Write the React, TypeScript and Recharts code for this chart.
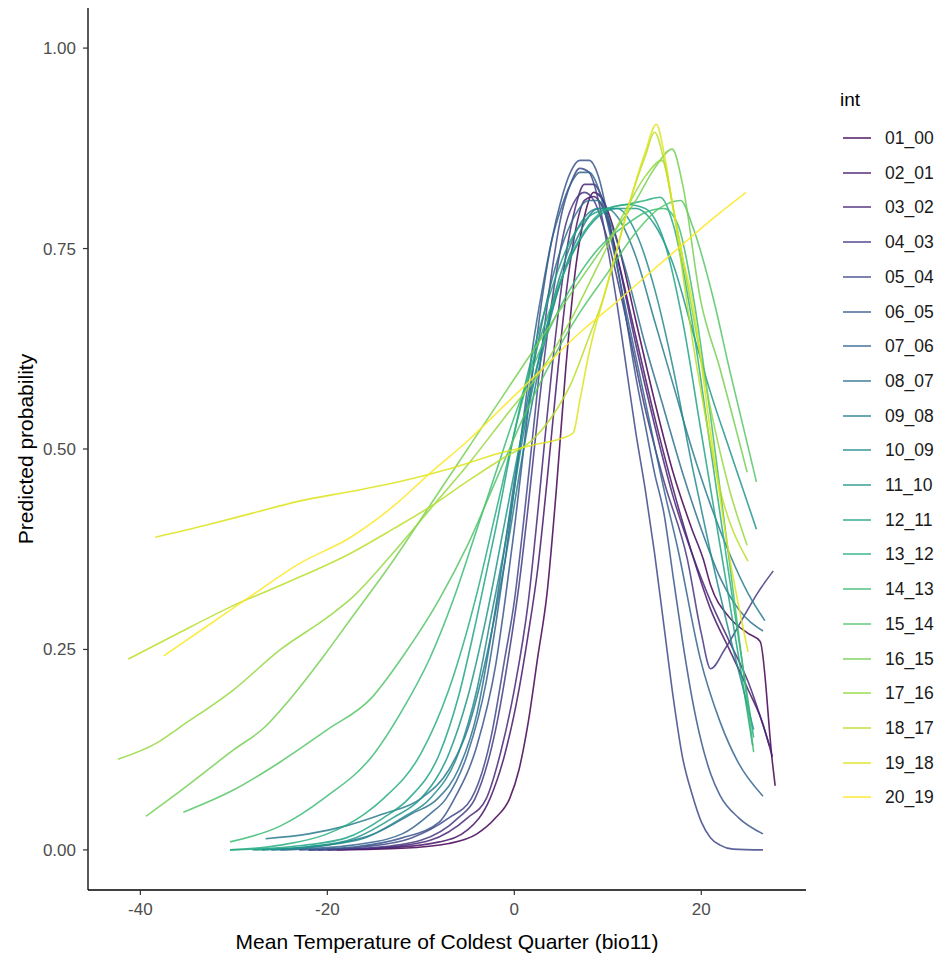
import React from 'react';
import { LineChart, Line, XAxis, YAxis, Legend } from 'recharts';

// Predicted probability vs bio11, one curve per interval (int)
type Pt = [number, number];

const s01_00: Pt[] = [[-19, 0], [-12, 0.002], [-7, 0.008], [-4, 0.02], [-2, 0.04], [-0.5, 0.064], [0.5, 0.1], [1.5, 0.16], [2.5, 0.24], [3.5, 0.32], [4.5, 0.45], [5.5, 0.6], [6.5, 0.72], [7.5, 0.79], [8.5, 0.82], [9.5, 0.81], [11, 0.76], [13, 0.66], [15, 0.56], [17, 0.47], [19, 0.4], [20.2, 0.363], [21, 0.33], [23, 0.29], [25, 0.27], [26.3, 0.26], [27.6, 0.11], [27.9, 0.08]];
const s02_01: Pt[] = [[-20, 0], [-13, 0.003], [-8, 0.01], [-5, 0.025], [-2.6, 0.064], [-1, 0.12], [0.5, 0.2], [1.5, 0.27], [2.5, 0.35], [3.5, 0.46], [4.5, 0.58], [5.5, 0.69], [6.5, 0.77], [7.5, 0.81], [8.5, 0.815], [9.5, 0.8], [11, 0.74], [13, 0.64], [15, 0.54], [17, 0.45], [19, 0.37], [21, 0.3], [23, 0.25], [25, 0.2], [26.5, 0.16], [27.6, 0.116]];
const s03_02: Pt[] = [[-21, 0], [-14, 0.003], [-9, 0.012], [-5, 0.04], [-3, 0.064], [-1.5, 0.12], [0, 0.2], [1.5, 0.31], [2.5, 0.42], [3.5, 0.54], [4.5, 0.65], [5.5, 0.74], [6.5, 0.8], [7.5, 0.83], [8.5, 0.83], [9.5, 0.81], [11, 0.74], [13, 0.63], [15, 0.53], [17, 0.44], [19, 0.37], [21, 0.31], [23, 0.26], [25, 0.21], [27.3, 0.13]];
const s04_03: Pt[] = [[-22, 0], [-15, 0.003], [-10, 0.012], [-6, 0.04], [-4.2, 0.064], [-2, 0.15], [-0.5, 0.25], [0.5, 0.33], [1.5, 0.43], [2.5, 0.54], [3.5, 0.64], [4.5, 0.72], [5.5, 0.78], [6.5, 0.81], [7.5, 0.82], [8.5, 0.81], [10, 0.76], [12, 0.66], [14, 0.55], [16, 0.46], [18.5, 0.363], [20, 0.27], [21, 0.226], [22.5, 0.25], [24.5, 0.29], [26, 0.32], [27.7, 0.348]];
const s05_04: Pt[] = [[-22, 0], [-16, 0.004], [-11, 0.015], [-7, 0.04], [-4.6, 0.064], [-2.5, 0.14], [-1, 0.24], [0, 0.31], [1, 0.41], [2, 0.52], [3, 0.63], [4, 0.72], [5, 0.79], [6, 0.83], [7, 0.85], [8, 0.845], [9, 0.81], [10, 0.75], [11, 0.68], [12, 0.6], [13, 0.52], [14, 0.45], [15, 0.37], [16, 0.28], [17, 0.19], [18, 0.115], [19, 0.07], [20, 0.035], [21, 0.015], [22, 0.006], [23.4, 0.001], [26.6, 0]];
const s06_05: Pt[] = [[-23, 0], [-17, 0.004], [-12, 0.015], [-8, 0.035], [-6.4, 0.064], [-4, 0.13], [-2, 0.23], [-1, 0.31], [0, 0.4], [1, 0.5], [2, 0.6], [3, 0.69], [4, 0.76], [5, 0.81], [6, 0.845], [7, 0.86], [8, 0.86], [9, 0.84], [10, 0.79], [11, 0.73], [12, 0.66], [13, 0.59], [14, 0.53], [15, 0.47], [16, 0.42], [17, 0.34], [18, 0.26], [19, 0.19], [20, 0.135], [21, 0.095], [22, 0.068], [24, 0.04], [26.6, 0.02]];
const s07_06: Pt[] = [[-25, 0], [-18, 0.005], [-12, 0.02], [-9, 0.045], [-7.3, 0.064], [-5, 0.12], [-3, 0.21], [-2, 0.28], [-1, 0.36], [0, 0.45], [1, 0.54], [2, 0.63], [3, 0.7], [4, 0.76], [5, 0.8], [6, 0.83], [7, 0.845], [8, 0.845], [9, 0.825], [10, 0.78], [12, 0.67], [14, 0.56], [16, 0.45], [17.5, 0.375], [19.9, 0.238], [22, 0.16], [23.9, 0.11], [26.6, 0.067]];
const s08_07: Pt[] = [[-26, 0], [-20, 0.006], [-15, 0.02], [-11, 0.045], [-8.2, 0.064], [-6, 0.1], [-4, 0.17], [-2.3, 0.28], [-1, 0.38], [0, 0.46], [2, 0.6], [4, 0.71], [6, 0.78], [8, 0.81], [9, 0.81], [10, 0.79], [12, 0.72], [14, 0.63], [16, 0.55], [18, 0.47], [20, 0.4], [22, 0.34], [24, 0.3], [26.6, 0.273]];
const s09_08: Pt[] = [[-26.6, 0.014], [-22, 0.02], [-18, 0.03], [-14, 0.045], [-10, 0.064], [-7, 0.1], [-5, 0.15], [-3, 0.24], [-1, 0.36], [1, 0.5], [3, 0.62], [5, 0.71], [7, 0.77], [9, 0.8], [10, 0.8], [11, 0.79], [13, 0.74], [15, 0.66], [17, 0.58], [19, 0.5], [21, 0.43], [23, 0.37], [25, 0.32], [26.8, 0.286]];
const s10_09: Pt[] = [[-27, 0], [-21, 0.005], [-16, 0.015], [-12, 0.04], [-9, 0.064], [-6, 0.12], [-4, 0.2], [-2.5, 0.29], [-1, 0.38], [1, 0.52], [3, 0.63], [5, 0.72], [7, 0.78], [9, 0.8], [11, 0.8], [13, 0.77], [15, 0.7], [17, 0.6], [19, 0.48], [21, 0.37], [23, 0.27], [25.6, 0.15]];
const s11_10: Pt[] = [[-28, 0], [-22, 0.004], [-17, 0.015], [-13, 0.04], [-10, 0.064], [-7, 0.12], [-5, 0.19], [-3, 0.29], [-1, 0.41], [1, 0.53], [3, 0.63], [5, 0.71], [7, 0.76], [9, 0.79], [11, 0.8], [13, 0.8], [15, 0.78], [17, 0.73], [19, 0.65], [21, 0.57], [23, 0.5], [25.9, 0.4]];
const s12_11: Pt[] = [[-30.4, 0], [-24, 0.004], [-18, 0.015], [-14, 0.04], [-11.3, 0.064], [-8, 0.12], [-6, 0.19], [-4, 0.29], [-2, 0.4], [0, 0.52], [2, 0.62], [4, 0.7], [6, 0.76], [8, 0.79], [10, 0.8], [12, 0.805], [14, 0.8], [16, 0.76], [18, 0.66], [20, 0.52], [22, 0.38], [24, 0.24], [25.5, 0.13]];
const s13_12: Pt[] = [[-30.4, 0], [-25, 0.006], [-20, 0.02], [-16, 0.045], [-14, 0.064], [-10, 0.12], [-7, 0.2], [-4, 0.32], [-2, 0.42], [0, 0.52], [2, 0.61], [4, 0.68], [6, 0.74], [8, 0.78], [10, 0.8], [12, 0.805], [14, 0.81], [15.6, 0.814], [17, 0.78], [19, 0.66], [21, 0.5], [23, 0.34], [25.6, 0.14]];
const s14_13: Pt[] = [[-30.4, 0.01], [-25, 0.03], [-20.4, 0.064], [-15, 0.12], [-12.2, 0.17], [-9, 0.24], [-6.5, 0.313], [-4, 0.4], [-2, 0.47], [0, 0.54], [3, 0.63], [6, 0.7], [9, 0.75], [12, 0.78], [14, 0.795], [16, 0.8], [17.5, 0.78], [19, 0.7], [21, 0.54], [23, 0.36], [25.6, 0.122]];
const s15_14: Pt[] = [[-35.4, 0.047], [-30, 0.075], [-25, 0.11], [-20, 0.15], [-15.4, 0.188], [-12, 0.24], [-8, 0.313], [-5, 0.38], [-2, 0.46], [1, 0.54], [4, 0.61], [7, 0.67], [10, 0.72], [13, 0.77], [15.5, 0.8], [17.8, 0.81], [19, 0.78], [21.3, 0.687], [23, 0.6], [25.9, 0.459]];
const s16_15: Pt[] = [[-39.4, 0.042], [-35, 0.08], [-30, 0.125], [-26.8, 0.152], [-24, 0.188], [-20.5, 0.24], [-17.5, 0.288], [-13, 0.36], [-9, 0.43], [-5, 0.5], [-1, 0.57], [3, 0.64], [7, 0.71], [10, 0.76], [13, 0.81], [15, 0.85], [16.9, 0.874], [18, 0.83], [19.9, 0.687], [22, 0.6], [24.9, 0.471]];
const s17_16: Pt[] = [[-42.4, 0.113], [-38, 0.135], [-35.9, 0.152], [-30, 0.2], [-25, 0.25], [-20, 0.29], [-17.5, 0.313], [-13, 0.37], [-9, 0.425], [-5, 0.48], [-1, 0.54], [3, 0.6], [6, 0.66], [9, 0.73], [12, 0.8], [14, 0.84], [15.8, 0.86], [17, 0.8], [18.8, 0.687], [21, 0.55], [23, 0.45], [24.9, 0.38]];
const s18_17: Pt[] = [[-41.3, 0.238], [-36, 0.27], [-30, 0.305], [-24, 0.335], [-17.5, 0.37], [-13, 0.4], [-9, 0.428], [-5, 0.46], [-1, 0.49], [1.7, 0.509], [4, 0.54], [6, 0.58], [8, 0.64], [9.5, 0.687], [11, 0.75], [12.4, 0.81], [14, 0.865], [15, 0.895], [16, 0.86], [17, 0.8], [18, 0.72], [19, 0.64], [20, 0.57], [22, 0.45], [25, 0.36]];
const s19_18: Pt[] = [[-38.4, 0.39], [-33, 0.405], [-28, 0.42], [-23, 0.435], [-17.5, 0.447], [-12, 0.46], [-7, 0.475], [-1.8, 0.494], [2, 0.505], [5, 0.513], [6.3, 0.52], [7, 0.56], [8, 0.62], [9.5, 0.687], [11, 0.75], [12.4, 0.81], [14, 0.87], [15.2, 0.905], [16, 0.87], [17, 0.8], [18, 0.74], [19, 0.687], [21, 0.52], [22.8, 0.38], [25, 0.247]];
const s20_19: Pt[] = [[-37.5, 0.242], [-33, 0.278], [-28, 0.318], [-23, 0.357], [-17.5, 0.39], [-13, 0.428], [-9, 0.47], [-5, 0.51], [-1, 0.555], [3, 0.6], [7, 0.645], [11.3, 0.687], [15, 0.725], [18, 0.755], [21, 0.785], [24.8, 0.82]];

const groups = ['01_00', '02_01', '03_02', '04_03', '05_04', '06_05', '07_06', '08_07', '09_08', '10_09',
  '11_10', '12_11', '13_12', '14_13', '15_14', '16_15', '17_16', '18_17', '19_18', '20_19'];
const seriesPoints = [s01_00, s02_01, s03_02, s04_03, s05_04, s06_05, s07_06, s08_07, s09_08, s10_09,
  s11_10, s12_11, s13_12, s14_13, s15_14, s16_15, s17_16, s18_17, s19_18, s20_19];
// viridis(20)
const palette = ['#440154', '#481568', '#482677', '#453781', '#3F4788', '#39558C', '#32648E', '#2D718E', '#287D8E', '#238A8D',
  '#1F968B', '#20A386', '#29AF7F', '#3CBC75', '#56C667', '#75D054', '#95D840', '#BADE28', '#DDE318', '#FDE725'];

const xTicks = [-40, -20, 0, 20];
const yTicks = [0, 0.25, 0.5, 0.75, 1];

const FONT = '"Liberation Sans", Arial, sans-serif';

function IntLegend() {
  return (
    <div style={{ position: 'relative', width: 111, height: 740, fontFamily: FONT }}>
      <div style={{ position: 'absolute', left: 10, top: 8, fontSize: 19, lineHeight: '24px', color: '#000' }}>int</div>
      {groups.map((g, i) => {
        const cy = 58 + i * 34.7;
        return (
          <div key={g} style={{ position: 'absolute', left: 0, top: cy - 11, height: 22, width: 111 }}>
            <svg width={45} height={22} style={{ position: 'absolute', left: 0, top: 0 }}>
              <line x1={13} x2={41} y1={11} y2={11} stroke={palette[i]} strokeOpacity={0.85} strokeWidth={1.6} />
            </svg>
            <span style={{ position: 'absolute', left: 55, top: 0, fontSize: 17.5, lineHeight: '22px', color: '#1a1a1a' }}>{g}</span>
          </div>
        );
      })}
    </div>
  );
}

export default function App() {
  return (
    <div style={{ position: 'absolute', left: 0, top: 0, width: 941, height: 955, background: '#fff' }}>
      <LineChart width={941} height={955} margin={{ top: 8, right: 135, bottom: 0, left: 0 }}>
        <XAxis
          type="number"
          dataKey="x"
          domain={[-45.6, 31.2]}
          ticks={xTicks}
          allowDataOverflow
          height={65}
          tickSize={5}
          tickMargin={8}
          axisLine={{ stroke: '#000', strokeWidth: 1.3 }}
          tickLine={{ stroke: '#333', strokeWidth: 1.2 }}
          tick={{ fill: '#4d4d4d', fontSize: 17, fontFamily: FONT }}
          label={() => (
            <text x={447} y={941} textAnchor="middle" dominantBaseline="central" fontSize={21} fontFamily={FONT} fill="#000">
              Mean Temperature of Coldest Quarter (bio11)
            </text>
          )}
        />
        <YAxis
          type="number"
          dataKey="y"
          domain={[-0.05, 1.05]}
          ticks={yTicks}
          allowDataOverflow
          width={88}
          tickSize={5}
          tickMargin={7}
          tickFormatter={(v: number) => v.toFixed(2)}
          axisLine={{ stroke: '#000', strokeWidth: 1.3 }}
          tickLine={{ stroke: '#333', strokeWidth: 1.2 }}
          tick={{ fill: '#4d4d4d', fontSize: 17, fontFamily: FONT }}
          label={() => (
            <text x={25} y={449} transform="rotate(-90 25 449)" textAnchor="middle" dominantBaseline="central" fontSize={21} fontFamily={FONT} fill="#000">
              Predicted probability
            </text>
          )}
        />
        {seriesPoints.map((pts, i) => (
          <Line
            key={groups[i]}
            name={groups[i]}
            data={pts.map(([x, y]) => ({ x, y }))}
            dataKey="y"
            type="monotone"
            stroke={palette[i]}
            strokeOpacity={0.85}
            strokeWidth={1.6}
            dot={false}
            activeDot={false}
            isAnimationActive={false}
          />
        ))}
        <Legend
          layout="vertical"
          align="center"
          verticalAlign="middle"
          wrapperStyle={{ left: 830, top: 80, width: 111 }}
          content={() => <IntLegend />}
        />
      </LineChart>
    </div>
  );
}
